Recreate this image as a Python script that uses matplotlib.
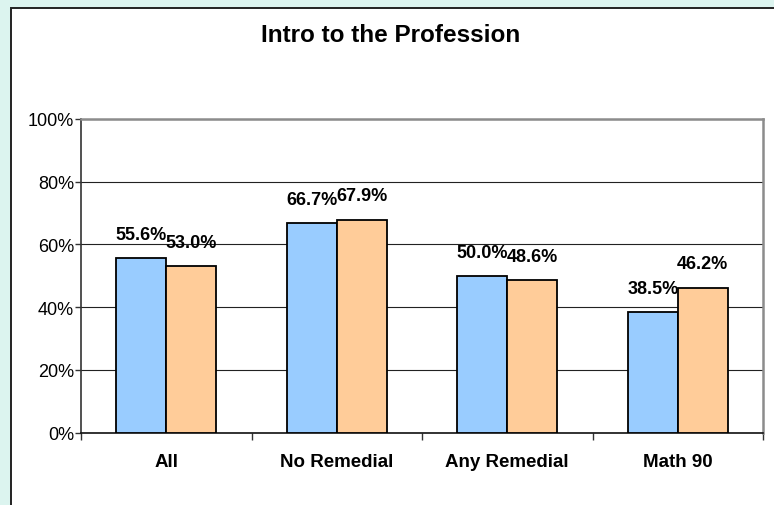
import matplotlib

matplotlib.use("Agg")
import matplotlib.pyplot as plt
from matplotlib.patches import Rectangle
import numpy as np

# chart data
categories = ["All", "No Remedial", "Any Remedial", "Math 90"]
series_1 = [55.6, 66.7, 50.0, 38.5]
series_2 = [53.0, 67.9, 48.6, 46.2]
y_ticks = [0, 20, 40, 60, 80, 100]
title = "Intro to the Profession"

plt.rcParams["font.family"] = ["Liberation Sans", "DejaVu Sans"]

W, H = 774, 506
fig = plt.figure(figsize=(W / 100, H / 100), dpi=100)
fig.patch.set_facecolor("#DCF4EF")

# white chart area with dark border (cropped on right and bottom)
fig.patches.append(
    Rectangle(
        (10.5 / W, -0.05),
        1.2,
        (H - 9) / H + 0.05,
        transform=fig.transFigure,
        facecolor="white",
        edgecolor="#222222",
        linewidth=1.4,
        zorder=-5,
    )
)

left, right, top, bottom = 81, 763, 120, 433.5
ax = fig.add_axes([left / W, (H - bottom) / H, (right - left) / W, (bottom - top) / H])
ax.set_facecolor("white")

bar_w = 0.293
centers = np.arange(len(categories)) + 0.5

bars_1 = ax.bar(centers - bar_w / 2, series_1, bar_w, color="#99CCFF",
                edgecolor="black", linewidth=1.3, zorder=3)
bars_2 = ax.bar(centers + bar_w / 2, series_2, bar_w, color="#FFCC99",
                edgecolor="black", linewidth=1.3, zorder=3)

for bars, vals in ((bars_1, series_1), (bars_2, series_2)):
    for b, v in zip(bars, vals):
        ax.annotate(
            f"{v:.1f}%",
            (b.get_x() + b.get_width() / 2, v),
            xytext=(0, 13.8),
            textcoords="offset points",
            ha="center",
            va="baseline",
            fontsize=13,
            fontweight="bold",
            zorder=4,
        )

ax.set_xlim(0, len(categories))
ax.set_ylim(0, 100)

ax.set_yticks(y_ticks)
ax.set_yticklabels([f"{t}%" for t in y_ticks], fontsize=13)
ax.yaxis.grid(True, color="#222222", linewidth=0.8, zorder=1)

ax.set_xticks(np.arange(len(categories) + 1))
ax.set_xticklabels([])
ax.set_xticks(centers, minor=True)
ax.set_xticklabels(categories, minor=True, fontsize=13.5, fontweight="bold")
ax.tick_params(axis="x", which="major", length=5, width=1, color="#333333", direction="out")
ax.tick_params(axis="x", which="minor", length=0, pad=15)
ax.tick_params(axis="y", length=4, width=1, color="#333333", pad=1)

for side in ("top", "right"):
    ax.spines[side].set_color("#8C8C8C")
    ax.spines[side].set_linewidth(1.8)
ax.spines["left"].set_color("#333333")
ax.spines["left"].set_linewidth(1.2)
ax.spines["bottom"].set_color("#111111")
ax.spines["bottom"].set_linewidth(1.2)
ax.set_axisbelow(True)

fig.text(391 / W, 1 - 35 / H, title, ha="center", va="center",
         fontsize=17.5, fontweight="bold")

fig.savefig("out.png", dpi=100, facecolor=fig.get_facecolor())
